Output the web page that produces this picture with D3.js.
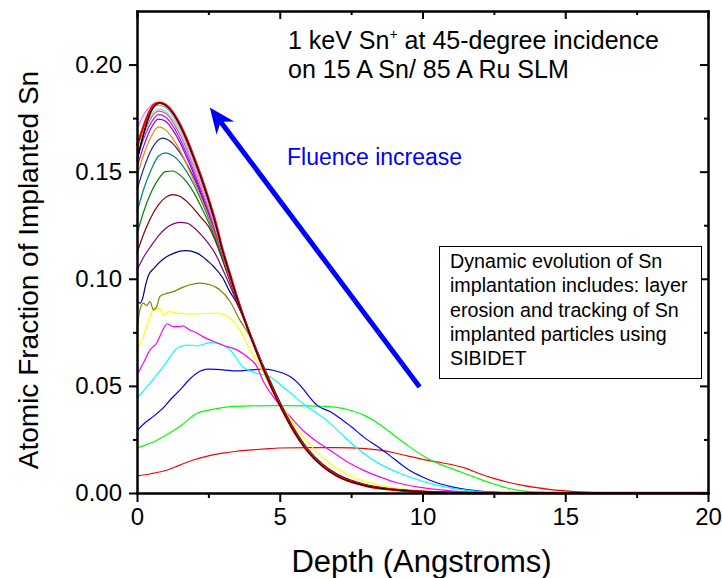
<!DOCTYPE html>
<html>
<head>
<meta charset="utf-8">
<script src="https://cdn.jsdelivr.net/npm/d3@7"></script>
<style>
  html, body { margin: 0; padding: 0; background: #fff; }
  svg { display: block; font-family: Arial, "Liberation Sans", sans-serif; }
</style>
</head>
<body>
<svg id="chart" width="722" height="578"></svg>
<script>
"use strict";

//// data: [depth (A), atomic fraction], lowest fluence first
const snRed = [[0,0.008],[0.5,0.009],[1,0.0105],[1.5,0.013],[2,0.0155],[2.5,0.0173],[3,0.0186],[3.5,0.0195],[4,0.0201],[4.5,0.0206],[5,0.021],[6,0.0212],[7,0.0212],[8,0.0207],[8.5,0.02],[9,0.0188],[9.5,0.0172],[10,0.0157],[10.5,0.0145],[11,0.0133],[11.5,0.0116],[12,0.009],[12.5,0.0068],[13,0.005],[13.5,0.0036],[14,0.0025],[14.5,0.0016],[15,0.001],[15.5,0.0005],[16,0.0002],[16.5,0],[20,0]];
const snGreen = [[0,0.021],[0.46,0.0232],[0.92,0.0263],[1.5,0.031],[2.1,0.0372],[2.56,0.0388],[3.26,0.0403],[4,0.0407],[5,0.0408],[6,0.0407],[6.5,0.0405],[7,0.04],[7.5,0.0385],[8,0.036],[8.5,0.032],[9,0.027],[9.5,0.022],[10,0.0175],[10.5,0.014],[11,0.0115],[11.5,0.009],[12,0.0065],[12.5,0.0042],[13,0.0022],[13.5,0.001],[14,0.0004],[15,0],[20,0]];
const snBlue = [[0,0.029],[0.3,0.033],[0.6,0.036],[0.9,0.0395],[1.2,0.044],[1.5,0.048],[1.8,0.0525],[2.1,0.056],[2.5,0.0578],[3,0.0575],[3.5,0.057],[4,0.0575],[4.4,0.0578],[4.8,0.0572],[5.1,0.056],[5.4,0.054],[5.7,0.0505],[6,0.0455],[6.3,0.041],[6.76,0.038],[7,0.036],[7.5,0.031],[8,0.0255],[8.5,0.021],[9,0.016],[9.5,0.011],[10,0.0075],[10.5,0.0048],[11,0.003],[11.5,0.0017],[12,0.0009],[12.5,0.0004],[13,0.0001],[14,0],[20,0]];
const snCyan = [[0,0.0443],[0.46,0.0513],[0.92,0.059],[1.5,0.0684],[1.86,0.069],[2.1,0.0687],[2.56,0.0702],[2.8,0.07],[3.26,0.0668],[3.7,0.059],[4.2,0.0559],[4.66,0.0543],[5.1,0.0497],[5.8,0.0419],[6.76,0.0326],[7.2,0.027],[7.7,0.021],[8.2,0.016],[8.7,0.0122],[9.2,0.0092],[10,0.0055],[10.5,0.0037],[11,0.0023],[12,0.0007],[13,0.0001],[14,0],[20,0]];
const snMagenta = [[0,0.055],[0.22,0.0606],[0.46,0.0668],[0.69,0.07],[0.9,0.076],[1.05,0.079],[1.27,0.0777],[1.5,0.0777],[1.6,0.078],[1.86,0.076],[2.1,0.0747],[2.3,0.073],[2.56,0.0715],[3,0.069],[3.5,0.0668],[3.85,0.0637],[4.2,0.059],[4.4,0.0528],[4.77,0.045],[5.36,0.0357],[5.8,0.0294],[6.3,0.024],[6.76,0.02],[7.5,0.0135],[8,0.0102],[8.5,0.0075],[9.1,0.0048],[10,0.0025],[11,0.001],[12,0.0003],[13,0],[20,0]];
const snYellow = [[0,0.0668],[0.22,0.073],[0.46,0.0824],[0.57,0.0855],[0.8,0.0863],[0.92,0.0832],[1.04,0.084],[1.16,0.0847],[1.4,0.084],[2.09,0.0836],[2.79,0.084],[3.26,0.0816],[3.6,0.076],[3.96,0.0668],[4.3,0.059],[4.6,0.0515],[5,0.0425],[5.5,0.032],[6,0.0235],[6.5,0.0165],[7,0.0115],[7.5,0.0078],[8,0.0053],[9,0.0024],[10,0.001],[11,0.0004],[12,0.0001],[13,0],[20,0]];
const snOlive = [[0,0.076],[0.1,0.0855],[0.22,0.0886],[0.34,0.0875],[0.46,0.0894],[0.57,0.0855],[0.69,0.087],[0.8,0.0917],[1,0.093],[1.27,0.094],[1.6,0.096],[1.86,0.0972],[2.2,0.098],[2.56,0.0972],[2.9,0.0949],[3.26,0.0894],[3.6,0.0808],[3.96,0.073],[4.3,0.0628],[4.6,0.0545],[5,0.0428],[5.5,0.0302],[6,0.0204],[6.5,0.0136],[7,0.009],[8,0.004],[9,0.0018],[10,0.0008],[11,0.0003],[12,0],[20,0]];
const snNavy = [[0,0.09],[0.1,0.0886],[0.2,0.091],[0.3,0.097],[0.4,0.1015],[0.6,0.105],[0.9,0.109],[1.3,0.112],[1.7,0.1131],[2.1,0.112],[2.5,0.108],[2.7,0.1055],[3,0.1005],[3.25,0.094],[3.5,0.0885],[3.75,0.081],[4,0.0732],[4.5,0.0568],[5,0.0424],[5.5,0.0298],[6,0.02],[6.5,0.0133],[7,0.0087],[8,0.0038],[9,0.0017],[10,0.0007],[11,0.0002],[12,0],[20,0]];
const snPurple = [[0,0.104],[0.25,0.1105],[0.5,0.1155],[0.75,0.12],[1,0.1235],[1.25,0.1255],[1.5,0.1263],[1.75,0.126],[2,0.1238],[2.25,0.1205],[2.5,0.1165],[2.75,0.1115],[3,0.1045],[3.25,0.097],[3.5,0.089],[3.75,0.0812],[4,0.0728],[4.5,0.0565],[5,0.042],[5.5,0.0295],[6,0.0198],[6.5,0.013],[7,0.0085],[8,0.0037],[9,0.0016],[10,0.0007],[11,0.0002],[12,0],[20,0]];
const snMaroon = [[0,0.112],[0.25,0.1215],[0.5,0.129],[0.75,0.1345],[1,0.138],[1.25,0.1393],[1.5,0.1385],[1.75,0.136],[2,0.1325],[2.25,0.1285],[2.5,0.1245],[2.75,0.1175],[3,0.1085],[3.25,0.099],[3.5,0.0898],[3.75,0.0815],[4,0.073],[4.5,0.0563],[5,0.0418],[5.5,0.0293],[6,0.0196],[6.5,0.0129],[7,0.0084],[8,0.0036],[9,0.0016],[10,0.0007],[11,0.0002],[12,0],[20,0]];
const snGreen2 = [[0,0.121],[0.25,0.132],[0.5,0.1405],[0.75,0.1465],[1,0.15],[1.25,0.1503],[1.5,0.1485],[1.75,0.145],[2,0.14],[2.25,0.1335],[2.5,0.1265],[2.75,0.1185],[3,0.1095],[3.25,0.1],[3.5,0.0905],[3.75,0.0817],[4,0.0729],[4.5,0.0561],[5,0.0416],[5.5,0.0291],[6,0.0195],[6.5,0.0128],[7,0.0083],[8,0.0035],[9,0.0015],[10,0.0006],[11,0.0002],[12,0],[20,0]];
const snTeal = [[0,0.131],[0.25,0.1425],[0.5,0.151],[0.75,0.1572],[1,0.1588],[1.25,0.1575],[1.5,0.1545],[1.75,0.1498],[2,0.1438],[2.25,0.1365],[2.5,0.1285],[2.75,0.12],[3,0.1105],[3.25,0.1005],[3.5,0.091],[3.75,0.0818],[4,0.0728],[4.5,0.056],[5,0.0415],[5.5,0.029],[6,0.0194],[6.5,0.0127],[7,0.0082],[8,0.0035],[9,0.0015],[10,0.0006],[11,0.0002],[12,0],[20,0]];
const snBlue2 = [[0,0.1416],[0.25,0.152],[0.5,0.1602],[0.75,0.1648],[0.9,0.1657],[1.1,0.1648],[1.5,0.159],[1.75,0.1535],[2,0.147],[2.25,0.139],[2.5,0.1305],[2.75,0.1215],[3,0.1115],[3.25,0.101],[3.5,0.091],[3.75,0.0818],[4,0.0727],[4.5,0.0559],[5,0.0414],[5.5,0.0289],[6,0.0193],[6.5,0.0127],[7,0.0082],[8,0.0035],[9,0.0015],[10,0.0006],[11,0.0002],[12,0],[20,0]];
const snOrange = [[0,0.148],[0.25,0.1585],[0.5,0.1665],[0.75,0.1709],[1,0.1695],[1.25,0.1655],[1.5,0.16],[1.75,0.153],[2,0.1455],[2.25,0.1375],[2.5,0.1295],[2.75,0.1205],[3,0.111],[3.25,0.1005],[3.5,0.0905],[3.75,0.0817],[4,0.0727],[4.5,0.0558],[5,0.0413],[5.5,0.0289],[6,0.0193],[6.5,0.0126],[7,0.0081],[8,0.0034],[9,0.0015],[10,0.0006],[11,0.0002],[12,0],[20,0]];
const snViolet = [[0,0.152],[0.25,0.1625],[0.5,0.1705],[0.75,0.1745],[1,0.1735],[1.25,0.1695],[1.5,0.1638],[1.75,0.1565],[2,0.1485],[2.5,0.131],[3,0.1115],[3.5,0.0905],[3.75,0.0816],[4,0.0726],[4.5,0.0558],[5,0.0413],[5.5,0.0288],[6,0.0192],[6.5,0.0126],[7,0.0081],[8,0.0034],[9,0.0015],[10,0.0006],[11,0.0002],[12,0],[20,0]];
const snMagenta2 = [[0,0.156],[0.25,0.166],[0.5,0.173],[0.75,0.1766],[1,0.1755],[1.25,0.1715],[1.5,0.1655],[1.75,0.158],[2,0.1498],[2.5,0.1318],[3,0.112],[3.5,0.0908],[3.75,0.0816],[4,0.0726],[4.5,0.0557],[5,0.0412],[5.5,0.0288],[6,0.0192],[6.5,0.0126],[7,0.0081],[8,0.0034],[9,0.0015],[10,0.0006],[11,0.0002],[12,0],[20,0]];
const snGray = [[0,0.158],[0.25,0.168],[0.5,0.1752],[0.75,0.1783],[1,0.1773],[1.5,0.1675],[2,0.1518],[2.5,0.1335],[3,0.1122],[3.5,0.091],[3.75,0.0816],[4,0.0726],[4.5,0.0557],[5,0.0412],[5.5,0.0288],[6,0.0192],[6.5,0.0126],[7,0.0081],[8,0.0034],[9,0.0015],[10,0.0006],[11,0.0002],[12,0],[20,0]];
const snSilver = [[0,0.16],[0.25,0.1695],[0.5,0.1765],[0.75,0.1792],[1,0.1782],[1.5,0.169],[2,0.1528],[2.5,0.1342],[3,0.1125],[3.5,0.091],[3.75,0.0815],[4,0.0725],[4.5,0.0557],[5,0.0412],[5.5,0.0288],[6,0.0192],[6.5,0.0126],[7,0.0081],[8,0.0034],[9,0.0015],[10,0.0006],[11,0.0002],[12,0],[20,0]];
const snTurquoise = [[0,0.163],[0.25,0.172],[0.5,0.1785],[0.75,0.181],[1,0.18],[1.5,0.1705],[2,0.1545],[2.5,0.1355],[3,0.113],[3.5,0.0912],[3.75,0.0815],[4,0.0725],[4.5,0.0557],[5,0.0412],[5.5,0.0288],[6,0.0192],[6.5,0.0126],[7,0.0081],[8,0.0034],[9,0.0015],[10,0.0006],[11,0.0002],[12,0],[20,0]];
const snPink = [[0,0.17],[0.25,0.177],[0.5,0.181],[0.7,0.1824],[1,0.1805],[1.5,0.171],[2,0.1545],[2.5,0.1355],[3,0.1125],[3.5,0.0905],[3.75,0.0813],[4,0.0723],[4.5,0.0556],[5,0.0411],[5.5,0.0287],[6,0.0191],[6.5,0.0125],[7,0.008],[8,0.0034],[9,0.0015],[10,0.0006],[11,0.0002],[12,0],[20,0]];
const snBlack = [[0,0.155],[0.2,0.166],[0.4,0.175],[0.6,0.1805],[0.8,0.182],[1,0.181],[1.25,0.1775],[1.5,0.1718],[1.75,0.1645],[2,0.156],[2.25,0.147],[2.5,0.137],[2.75,0.1258],[3,0.113],[3.25,0.102],[3.5,0.091],[3.75,0.0814],[4,0.0724],[4.5,0.0556],[5,0.0411],[5.5,0.0287],[6,0.0191],[6.5,0.0125],[7,0.008],[8,0.0034],[9,0.0015],[10,0.0006],[11,0.0002],[12,0],[20,0]];
const snFinal = [[0,0.162],[0.2,0.17],[0.4,0.177],[0.6,0.1812],[0.8,0.1822],[1,0.1812],[1.25,0.1778],[1.5,0.1722],[1.75,0.165],[2,0.1565],[2.25,0.1475],[2.5,0.1375],[2.75,0.1265],[3,0.1135],[3.25,0.1025],[3.5,0.0915],[3.75,0.0815],[4,0.0725],[4.5,0.0557],[5,0.0412],[5.5,0.0288],[6,0.0192],[6.5,0.0126],[7,0.0081],[8,0.0034],[9,0.0015],[10,0.0006],[11,0.0002],[12,0],[20,0]];

const profiles = [snRed, snGreen, snBlue, snCyan, snMagenta, snYellow, snOlive, snNavy, snPurple, snMaroon,
    snGreen2, snTeal, snBlue2, snOrange, snViolet, snMagenta2, snGray, snSilver, snTurquoise, snPink, snBlack, snFinal];
const profileColors = ["#ff0000", "#00ff00", "#0000ff", "#00ffff", "#ff00ff", "#ffff00", "#808000", "#000080", "#800080", "#800000",
    "#008000", "#008080", "#2222aa", "#ff8000", "#8000ff", "#e600e6", "#808080", "#c0c0c0", "#33cccc", "#ff77ff", "#000000", "#ff0000"];

const xTicks = [0, 5, 10, 15, 20];
const xMinorTicks = [2.5, 7.5, 12.5, 17.5];
const yTicks = [0, 0.05, 0.10, 0.15, 0.20];
const yMinorTicks = [0.025, 0.075, 0.125, 0.175];

const titleLines = ["1 keV Sn", "on 15 A Sn/ 85 A Ru SLM"];
const noteLines = ["Dynamic evolution of Sn", "implantation includes: layer", "erosion and tracking of Sn", "implanted particles using", "SIBIDET"];
// arrow from tail to head, in data units
const arrowPoints = [[9.9, 0.0495], [2.55, 0.18]];

(function () {
    const svg = d3.select("#chart");
    const left = 137, right = 708, top = 11, bottom = 493;

    const x = d3.scaleLinear().domain([0, 20]).range([left, right]);
    const y = d3.scaleLinear().domain([0, 0.225]).range([bottom, top]);

    //// profiles
    const line = d3.line()
        .x(function(d) { return x(d[0]); })
        .y(function(d) { return y(d[1]); })
        .curve(d3.curveMonotoneX);

    const curves = svg.append("g").attr("class", "curves");
    profiles.forEach(function(p, i) {
        curves.append("path")
            .attr("d", line(p))
            .attr("fill", "none")
            .attr("stroke", profileColors[i])
            .attr("stroke-width", i === profiles.length - 1 ? 2.4 : (i === profiles.length - 2 ? 1.4 : 1.2))
            .attr("stroke-linejoin", "round");
    });
    // keep the black line visible on top of the final red one
    curves.append("path")
        .attr("d", line(snBlack))
        .attr("fill", "none")
        .attr("stroke", "#000")
        .attr("stroke-width", 1);

    //// axes
    function styleAxis(g) {
        g.select(".domain").attr("stroke", "#000").attr("stroke-width", 2);
        g.selectAll(".tick line").attr("stroke", "#000").attr("stroke-width", 2);
        g.selectAll(".tick text").attr("fill", "#000").style("font-size", "24px")
            .style("font-family", "Arial, 'Liberation Sans', sans-serif");
    }

    svg.append("g")
        .attr("transform", "translate(0," + bottom + ")")
        .call(d3.axisBottom(x).tickValues(xTicks).tickFormat(d3.format("d")).tickSize(9).tickSizeOuter(0).tickPadding(6))
        .call(styleAxis);
    svg.append("g")
        .attr("transform", "translate(0," + bottom + ")")
        .call(d3.axisBottom(x).tickValues(xMinorTicks).tickFormat("").tickSize(5).tickSizeOuter(0))
        .call(styleAxis);

    svg.append("g")
        .attr("transform", "translate(" + left + ",0)")
        .call(d3.axisLeft(y).tickValues(yTicks).tickFormat(d3.format(".2f")).tickSize(8).tickSizeOuter(0).tickPadding(7))
        .call(styleAxis);
    svg.append("g")
        .attr("transform", "translate(" + left + ",0)")
        .call(d3.axisLeft(y).tickValues(yMinorTicks).tickFormat("").tickSize(4).tickSizeOuter(0))
        .call(styleAxis);

    // mirrored top and right axes, ticks pointing inward
    svg.append("g")
        .attr("transform", "translate(0," + top + ")")
        .call(d3.axisBottom(x).tickValues(xTicks).tickFormat("").tickSize(8).tickSizeOuter(0))
        .call(styleAxis);
    svg.append("g")
        .attr("transform", "translate(0," + top + ")")
        .call(d3.axisBottom(x).tickValues(xMinorTicks).tickFormat("").tickSize(4).tickSizeOuter(0))
        .call(styleAxis);
    svg.append("g")
        .attr("transform", "translate(" + right + ",0)")
        .call(d3.axisLeft(y).tickValues(yTicks).tickFormat("").tickSize(-8).tickSizeOuter(0))
        .call(function(g) { g.selectAll(".tick line").attr("x2", -8); })
        .call(styleAxis);
    svg.append("g")
        .attr("transform", "translate(" + right + ",0)")
        .call(d3.axisLeft(y).tickValues(yMinorTicks).tickFormat("").tickSize(-4).tickSizeOuter(0))
        .call(function(g) { g.selectAll(".tick line").attr("x2", -4); })
        .call(styleAxis);
    svg.selectAll(".domain").attr("stroke-linecap", "square");

    //// axis titles
    svg.append("text")
        .attr("x", (left + right) / 2 - 1)
        .attr("y", 572)
        .attr("text-anchor", "middle")
        .style("font-size", "31px")
        .text("Depth (Angstroms)");

    svg.append("text")
        .attr("transform", "translate(38," + ((top + bottom) / 2 + 18) + ") rotate(-90)")
        .attr("text-anchor", "middle")
        .style("font-size", "28px")
        .text("Atomic Fraction of Implanted Sn");

    //// annotations
    const title = svg.append("text")
        .attr("x", 288).attr("y", 49)
        .style("font-size", "25px");
    title.append("tspan").text(titleLines[0]);
    title.append("tspan").attr("dy", -10).style("font-size", "14px").text("+");
    title.append("tspan").attr("dy", 10).text(" at 45-degree incidence");
    svg.append("text")
        .attr("x", 288).attr("y", 78)
        .style("font-size", "25px")
        .text(titleLines[1]);

    svg.append("text")
        .attr("x", 287).attr("y", 165)
        .attr("fill", "#0000ff")
        .style("font-size", "23px")
        .text("Fluence increase");

    // arrow
    const tail = [x(arrowPoints[0][0]), y(arrowPoints[0][1])];
    const tip = [x(arrowPoints[1][0]), y(arrowPoints[1][1])];
    const len = Math.hypot(tip[0] - tail[0], tip[1] - tail[1]);
    const ux = (tip[0] - tail[0]) / len, uy = (tip[1] - tail[1]) / len;
    const nx = -uy, ny = ux;
    const headLen = 26, headHalf = 11, notch = 18;
    svg.append("line")
        .attr("x1", tail[0]).attr("y1", tail[1])
        .attr("x2", tip[0] - ux * notch).attr("y2", tip[1] - uy * notch)
        .attr("stroke", "#0000ff").attr("stroke-width", 5);
    svg.append("path")
        .attr("d", "M" + tip[0] + "," + tip[1]
            + "L" + (tip[0] - ux * headLen + nx * headHalf) + "," + (tip[1] - uy * headLen + ny * headHalf)
            + "L" + (tip[0] - ux * notch) + "," + (tip[1] - uy * notch)
            + "L" + (tip[0] - ux * headLen - nx * headHalf) + "," + (tip[1] - uy * headLen - ny * headHalf) + "Z")
        .attr("fill", "#0000ff");

    // note box
    svg.append("rect")
        .attr("x", 439.5).attr("y", 246.5)
        .attr("width", 262).attr("height", 132)
        .attr("fill", "#fff").attr("stroke", "#000").attr("stroke-width", 1);
    svg.append("g").selectAll("text")
        .data(noteLines)
        .enter().append("text")
            .attr("x", 450)
            .attr("y", function(d, i) { return 268 + i * 24.3; })
            .style("font-size", "19.7px")
            .text(function(d) { return d; });
})();
</script>
</body>
</html>
